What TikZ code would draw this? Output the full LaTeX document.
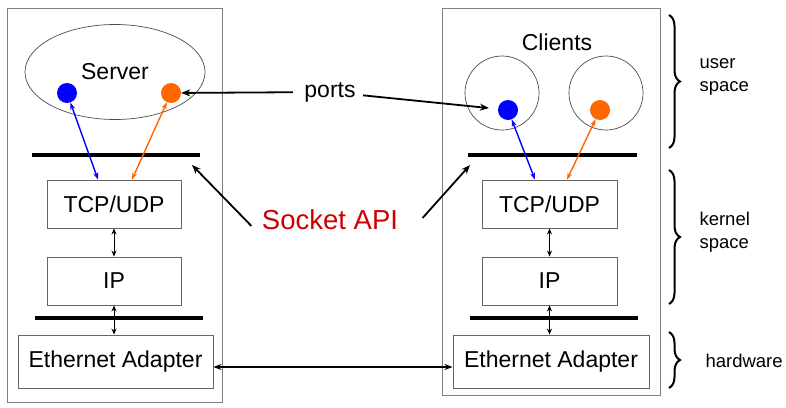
\documentclass[tikz,border=0pt]{standalone}
\usepackage{fontspec}
\setmainfont{Liberation Sans}
\usepackage{tikz}
\usetikzlibrary{arrows.meta,positioning,shapes.geometric,decorations.pathreplacing}
\definecolor{portblue}{HTML}{0000FF}
\definecolor{portorange}{HTML}{FF6600}
\definecolor{apired}{HTML}{CC0000}

\begin{document}
\begin{tikzpicture}[
  x=1pt, y=-1pt,
  font=\fontsize{23}{27}\selectfont,
  host/.style={draw=black!50, line width=0.9pt},
  layer/.style={draw=black!60, line width=0.9pt, minimum height=48pt, inner sep=0pt},
  proc/.style={draw=black!70, line width=0.7pt},
  port/.style={circle, inner sep=0pt, minimum size=20pt},
  bar/.style={line width=3.2pt},
  arr/.style={-{Stealth[length=9pt,width=7pt]}, line width=1.8pt},
  parr/.style={{Stealth[length=7pt,width=5pt]}-{Stealth[length=7pt,width=5pt]}, line width=1.4pt},
  darr/.style={{Stealth[length=6pt,width=5pt]}-{Stealth[length=6pt,width=5pt]}, line width=0.9pt},
  larr/.style={{Stealth[length=8pt,width=6pt]}-{Stealth[length=8pt,width=6pt]}, line width=1.5pt},
  brc/.style={decorate, decoration={brace, amplitude=11pt}, line width=2pt},
  lbl/.style={font=\fontsize{18.5}{23}\selectfont, align=left, anchor=west}]
\useasboundingbox (0,0) rectangle (786,407);
% ---- server host ----
\draw[host] (7,8) rectangle (222,402);
\node[proc, ellipse, minimum width=180pt, minimum height=95pt] (server) at (115,72) {Server};
\node[port, fill=portblue] (sblue) at (67,93) {};
\node[port, fill=portorange] (sorange) at (171,93) {};
\draw[bar] (32,155) -- (200,155);
\node[layer, minimum width=134pt] (stcp) at (114,204) {TCP/UDP};
\node[layer, minimum width=134pt] (sip) at (114,281) {IP};
\draw[bar] (35,318) -- (203,318);
\node[layer, minimum width=195pt, minimum height=53pt] (seth) at (115.5,361.5) {Ethernet Adapter};
\draw[parr, portblue] (sblue) -- ([xshift=-16pt]stcp.north);
\draw[parr, portorange] (sorange) -- ([xshift=18pt]stcp.north);
\draw[darr] (stcp) -- (sip);
\draw[darr] (sip.south) -- (sip.south |- seth.north);
% ---- client host ----
\draw[host] (442,8) rectangle (660,395);
\node (clients) at (557,42) {Clients};
\node[proc, circle, minimum size=74pt] (cleft) at (502,93) {};
\node[proc, circle, minimum size=74pt] (cright) at (606,93) {};
\node[port, fill=portblue] (cblue) at (508,110) {};
\node[port, fill=portorange] (corange) at (600,110) {};
\draw[bar] (468,155) -- (637,155);
\node[layer, minimum width=135pt] (ctcp) at (549.5,204) {TCP/UDP};
\node[layer, minimum width=135pt] (cip) at (549.5,281) {IP};
\draw[bar] (470,318) -- (638,318);
\node[layer, minimum width=196pt, minimum height=53pt] (ceth) at (551,361.5) {Ethernet Adapter};
\draw[parr, portblue] (cblue) -- ([xshift=-14.5pt]ctcp.north);
\draw[parr, portorange] (corange) -- ([xshift=17.5pt]ctcp.north);
\draw[darr] (ctcp) -- (cip);
\draw[darr] (cip.south) -- (cip.south |- ceth.north);
% ---- labels in between ----
\node (ports) at (330,92) {ports};
\draw[arr, shorten <=8pt] (ports) -- (sorange);
\draw[arr, shorten <=4pt, shorten >=9pt] (ports) -- (cblue);
\node[text=apired, font=\fontsize{27.5}{32}\selectfont] (api) at (330,220) {Socket API};
\coordinate (sapi) at (192,165);
\coordinate (capi) at (470,165);
\draw[arr] ([xshift=-7pt,yshift=-6pt]api.west) -- (sapi);
\draw[arr] ([xshift=21pt,yshift=2pt]api.east) -- (capi);
\draw[larr] ([yshift=-5.5pt]seth.east) -- ([yshift=-5.5pt]ceth.west);
% ---- braces ----
\draw[brc] (669,15) -- (669,148);
\draw[brc] (669,170) -- (669,304);
\draw[brc] (669,332) -- (669,388);
\node[lbl] (user) at (696,77) {user\\space};
\node[lbl] (kernel) at (696,232) {kernel\\space};
\node[lbl] (hw) at (702,361) {hardware};
\end{tikzpicture}
\end{document}
